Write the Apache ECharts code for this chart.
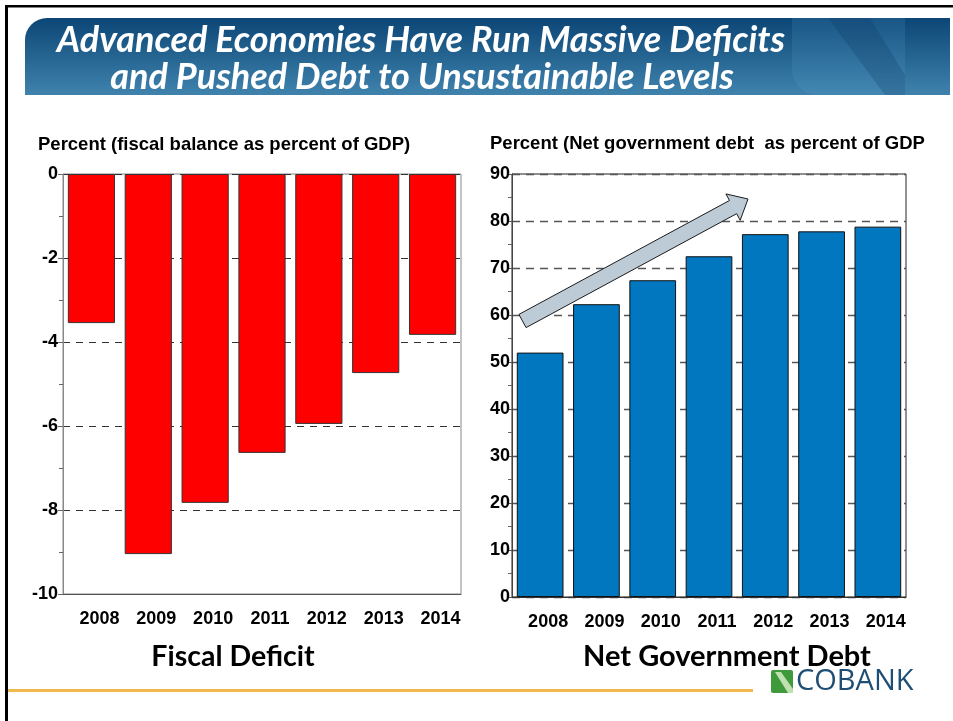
<!DOCTYPE html>
<html><head><meta charset="utf-8">
<script src="https://cdn.jsdelivr.net/npm/echarts@6/dist/echarts.min.js"></script>
<style>html,body{margin:0;padding:0;background:#fff}#c{width:953px;height:721px}</style>
</head><body><div id="c"></div>
<script>
const years = ['2008','2009','2010','2011','2012','2013','2014'];
const fiscalBalance = [-3.55, -9.05, -7.83, -6.64, -5.95, -4.74, -3.83];
const netDebt = [52.0, 62.3, 67.4, 72.5, 77.2, 77.8, 78.8];
const leftTicks = {min: -10, max: 0, interval: 2};
const rightTicks = {min: 0, max: 90, interval: 10};

const chart = echarts.init(document.getElementById('c'), null, {renderer: 'canvas'});

// arrow polygon (decoration)
function arrowPts(tx, ty, px, py, w, h, hl) {
  const dx = px - tx, dy = py - ty, L = Math.hypot(dx, dy);
  const ux = dx / L, uy = dy / L, nx = -uy, ny = ux;
  const bx = px - ux * hl, by = py - uy * hl;
  return [[tx - nx*w, ty - ny*w],[bx - nx*w, by - ny*w],[bx - nx*h, by - ny*h],[px, py],
          [bx + nx*h, by + ny*h],[bx + nx*w, by + ny*w],[tx + nx*w, ty + ny*w]];
}

const axisLabelY = {color: '#000', fontFamily: 'Liberation Sans, Arial', fontWeight: 'bold', fontSize: 18};
const axisLabelX = {color: '#000', fontFamily: 'Liberation Sans, Arial', fontWeight: 'bold', fontSize: 18, margin: 16, padding: [0,0,0,16]};

chart.setOption({
  animation: false,
  grid: [
    {left: 63, top: 174, width: 398, height: 420, show: true, borderColor: '#888', borderWidth: 1},
    {left: 512, top: 174, width: 394, height: 423, show: true, borderColor: '#222', borderWidth: 1}
  ],
  xAxis: [
    {type: 'category', gridIndex: 0, data: years, position: 'bottom',
     axisLine: {onZero: false, lineStyle: {color: '#555'}},
     axisTick: {alignWithLabel: true, length: 8, lineStyle: {color: '#222'}},
     axisLabel: axisLabelX},
    {type: 'category', gridIndex: 1, data: years, position: 'bottom',
     axisLine: {onZero: false, lineStyle: {color: '#333'}},
     axisTick: {alignWithLabel: true, length: 8, lineStyle: {color: '#222'}},
     axisLabel: axisLabelX}
  ],
  yAxis: [
    {type: 'value', gridIndex: 0, min: leftTicks.min, max: leftTicks.max, interval: leftTicks.interval,
     axisLine: {show: true, lineStyle: {color: '#888'}},
     axisTick: {show: true, length: 5, lineStyle: {color: '#666'}},
     minorTick: {show: true, splitNumber: 2, length: 4, lineStyle: {color: '#666'}},
     splitLine: {show: true, lineStyle: {color: '#333', type: [7, 6], width: 1}},
     axisLabel: Object.assign({margin: 5}, axisLabelY)},
    {type: 'value', gridIndex: 1, min: rightTicks.min, max: rightTicks.max, interval: rightTicks.interval,
     axisLine: {show: true, lineStyle: {color: '#444'}},
     axisTick: {show: true, length: 5, lineStyle: {color: '#555'}},
     minorTick: {show: true, splitNumber: 2, length: 4, lineStyle: {color: '#666'}},
     splitLine: {show: true, lineStyle: {color: '#555', type: [8, 6], width: 1.3}},
     axisLabel: Object.assign({margin: 2}, axisLabelY)}
  ],
  series: [
    {type: 'bar', xAxisIndex: 0, yAxisIndex: 0, data: fiscalBalance, barWidth: '83%',
     itemStyle: {color: '#ff0000', borderColor: '#333', borderWidth: 1}},
    {type: 'bar', xAxisIndex: 1, yAxisIndex: 1, data: netDebt, barWidth: '83%',
     itemStyle: {color: '#0077be', borderColor: '#111', borderWidth: 1}}
  ],
  graphic: [
    // slide border
    {type: 'rect', shape: {x: 5, y: 5, width: 948, height: 2.5}, style: {fill: '#000'}, z: 10},
    {type: 'rect', shape: {x: 5, y: 5, width: 3, height: 716}, style: {fill: '#000'}, z: 10},
    // banner
    {type: 'rect', shape: {x: 25, y: 18, width: 925, height: 77, r: [22, 0, 0, 0]},
     style: {fill: new echarts.graphic.LinearGradient(0, 0, 0, 1, [
       {offset: 0, color: '#0c4676'}, {offset: 1, color: '#3f83ad'}])}, z: 1},
    {type: 'rect', shape: {x: 792, y: 18, width: 113, height: 77, r: [0, 0, 0, 26]},
     style: {fill: 'rgba(90,160,210,0.18)'}, z: 2},
    {type: 'polygon', shape: {points: [[828,18],[870,18],[905,75],[905,95],[885,95]]},
     style: {fill: 'rgba(10,50,90,0.22)'}, z: 2},
    {type: 'text', x: 421, y: 40, z: 5,
     style: {text: 'Advanced Economies Have Run Massive Deficits', fill: '#fff',
       font: 'italic bold 36px Lato, "Open Sans", sans-serif', align: 'center', verticalAlign: 'middle'}},
    {type: 'text', x: 422, y: 77, z: 5,
     style: {text: 'and Pushed Debt to Unsustainable Levels', fill: '#fff',
       font: 'italic bold 36px Lato, "Open Sans", sans-serif', align: 'center', verticalAlign: 'middle'}},
    // subtitles
    {type: 'text', x: 38, y: 145, z: 5,
     style: {text: 'Percent (fiscal balance as percent of GDP)', fill: '#000',
       font: 'bold 18.5px "Liberation Sans", Arial', verticalAlign: 'middle'}},
    {type: 'text', x: 490, y: 144, z: 5,
     style: {text: 'Percent (Net government debt  as percent of GDP', fill: '#000',
       font: 'bold 18.5px "Liberation Sans", Arial', verticalAlign: 'middle'}},
    // chart captions
    {type: 'text', x: 233, y: 657, z: 5,
     style: {text: 'Fiscal Deficit', fill: '#000', font: 'bold 28.5px Lato, "Open Sans", sans-serif',
       align: 'center', verticalAlign: 'middle'}},
    {type: 'text', x: 727, y: 657, z: 5,
     style: {text: 'Net Government Debt', fill: '#000', font: 'bold 29px Lato, "Open Sans", sans-serif',
       align: 'center', verticalAlign: 'middle'}},
    // orange rule
    {type: 'rect', shape: {x: 8, y: 689, width: 745, height: 3}, style: {fill: '#f2b84b'}, z: 5},
    // logo
    {type: 'rect', shape: {x: 771, y: 670, width: 22, height: 23, r: 2}, style: {fill: '#3f9a3c'}, z: 5},
    {type: 'polygon', shape: {points: [[775,672],[781,672],[793,689],[793,693],[788,693]]},
     style: {fill: '#bfe0b0'}, z: 6},
    {type: 'text', x: 796, y: 682, z: 5,
     style: {text: 'COBANK', fill: '#1f4e74', font: '29px "Open Sans", sans-serif', verticalAlign: 'middle'}},
    // arrow
    {type: 'polygon', z: 20,
     shape: {points: arrowPts(522.5, 321, 748, 199, 7.5, 15, 17)},
     style: {fill: '#bccbd6', stroke: '#1a1a1a', lineWidth: 1}}
  ]
});
</script></body></html>
